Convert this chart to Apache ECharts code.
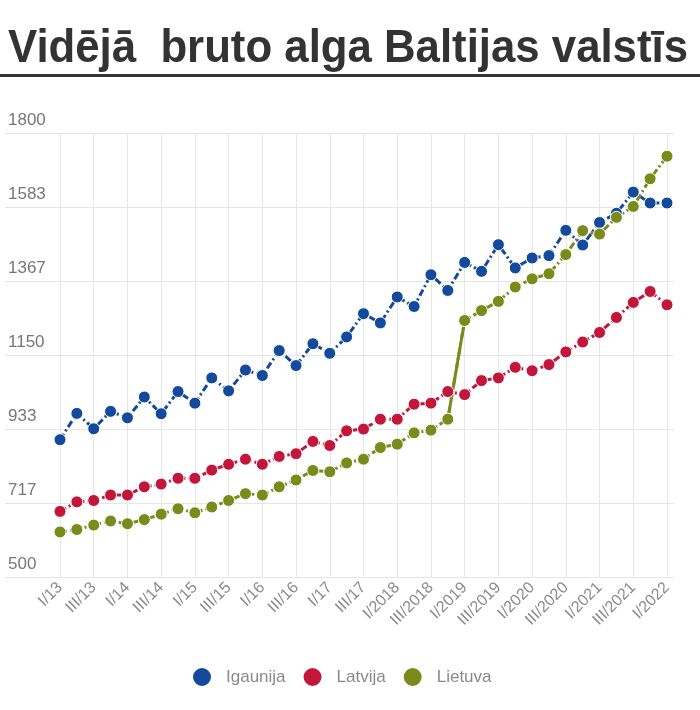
<!DOCTYPE html>
<html>
<head>
<meta charset="utf-8">
<script src="https://cdn.jsdelivr.net/npm/echarts@6/dist/echarts.min.js"></script>
<style>
  html, body { margin: 0; padding: 0; background: #fff; }
  #chart { width: 700px; height: 710px; }
</style>
</head>
<body>
<div id="chart"></div>
<script>
const quarters = [
  'I/13', 'II/13', 'III/13', 'IV/13',
  'I/14', 'II/14', 'III/14', 'IV/14',
  'I/15', 'II/15', 'III/15', 'IV/15',
  'I/16', 'II/16', 'III/16', 'IV/16',
  'I/17', 'II/17', 'III/17', 'IV/17',
  'I/2018', 'II/2018', 'III/2018', 'IV/2018',
  'I/2019', 'II/2019', 'III/2019', 'IV/2019',
  'I/2020', 'II/2020', 'III/2020', 'IV/2020',
  'I/2021', 'II/2021', 'III/2021', 'IV/2021',
  'I/2022',
]
const igaunija = [
  902, 979, 934, 985, 966, 1027, 978, 1043, 1009, 1083, 1045, 1106,
  1090, 1163, 1119, 1183, 1155, 1203, 1271, 1244, 1320, 1292, 1385, 1339,
  1421, 1395, 1473, 1405, 1434, 1441, 1515, 1472, 1538, 1565, 1627, 1595,
  1595,
]
const latvija = [
  692, 720, 724, 740, 740, 764, 772, 789, 789, 813, 830, 845,
  830, 853, 861, 897, 885, 928, 933, 962, 962, 1006, 1009, 1043,
  1034, 1075, 1083, 1114, 1104, 1122, 1159, 1188, 1216, 1260, 1304, 1336,
  1297,
]
const lietuva = [
  632, 639, 652, 664, 656, 668, 684, 700, 688, 705, 724, 744,
  740, 764, 784, 812, 808, 834, 845, 879, 889, 922, 930, 962,
  1251, 1280, 1307, 1349, 1373, 1388, 1444, 1514, 1504, 1553, 1585, 1666,
  1732,
]
// the jump between IV/2018 and I/2019 is drawn as a solid line
const jumpFrom = 'IV/2018'
const jumpTo = 'I/2019'
const yTicks = [500, 716.67, 933.33, 1150, 1366.67, 1583.33, 1800]

const title = 'Vidējā  bruto alga Baltijas valstīs'
const colors = { igaunija: '#134a9b', latvija: '#c2173b', lietuva: '#7a8b1c' }
const gridColor = '#e6e6e6'
const font = '"Liberation Sans", sans-serif'

// the original title face is condensed, so squeeze the text to its width
const titleFont = 'bold 46px "Liberation Sans"'
const ctx = document.createElement('canvas').getContext('2d')
ctx.font = titleFont
const titleScale = 680 / ctx.measureText(title).width

const chart = echarts.init(document.getElementById('chart'))

const lineSeries = (name, data, color) => ({
  name,
  type: 'line',
  data,
  symbol: 'circle',
  symbolSize: 12,
  showAllSymbol: true,
  itemStyle: { color, borderColor: '#fff', borderWidth: 1 },
  lineStyle: { color, width: 3, type: [7, 3, 2, 3] },
  emphasis: { disabled: true },
})

chart.setOption({
  animation: false,
  graphic: [
    {
      type: 'text',
      x: 8,
      y: 49,
      scaleX: titleScale,
      style: { text: title, font: titleFont, fill: '#333', verticalAlign: 'middle' },
    },
    { type: 'rect', shape: { x: 0, y: 74, width: 700, height: 3 }, style: { fill: '#333' } },
  ],
  legend: {
    data: ['Igaunija', 'Latvija', 'Lietuva'],
    top: 661,
    left: 186,
    icon: 'circle',
    itemWidth: 20,
    itemHeight: 20,
    itemGap: 16,
    textStyle: { fontFamily: font, fontSize: 17, color: '#8a8a8a', padding: [0, 0, 0, 9] },
    selectedMode: false,
  },
  grid: { left: 60, right: 33, top: 133, bottom: 133, outerBoundsMode: 'none', containLabel: false },
  xAxis: {
    type: 'category',
    data: quarters,
    boundaryGap: false,
    axisLine: { show: false },
    axisTick: { show: false },
    axisLabel: {
      interval: 1,
      rotate: 45,
      margin: 8,
      fontFamily: font,
      fontSize: 16,
      color: '#8a8a8a',
    },
    splitLine: { show: true, interval: 1, lineStyle: { color: gridColor, width: 1 } },
  },
  yAxis: [
    {
      type: 'value',
      min: yTicks[0],
      max: yTicks[yTicks.length - 1],
      axisLine: { show: false },
      axisTick: {
        show: true,
        length: 55,
        customValues: yTicks,
        lineStyle: { color: gridColor, width: 1 },
      },
      axisLabel: {
        customValues: yTicks,
        align: 'left',
        verticalAlign: 'bottom',
        margin: 52,
        padding: [0, 0, 4, 0],
        fontFamily: font,
        fontSize: 17,
        color: '#777',
        formatter: (v) => String(Math.round(v)),
      },
      splitLine: { show: true, lineStyle: { color: gridColor, width: 1 } },
    },
    {
      type: 'value',
      position: 'right',
      min: yTicks[0],
      max: yTicks[yTicks.length - 1],
      axisLine: { show: false },
      axisTick: { show: true, length: 7, customValues: yTicks, lineStyle: { color: gridColor, width: 1 } },
      axisLabel: { show: false },
      splitLine: { show: false },
    },
  ],
  series: [
    lineSeries('Igaunija', igaunija, colors.igaunija),
    lineSeries('Latvija', latvija, colors.latvija),
    {
      name: 'jump',
      type: 'line',
      data: quarters.map((q, i) => (q === jumpFrom || q === jumpTo ? lietuva[i] : null)),
      symbol: 'none',
      lineStyle: { color: colors.lietuva, width: 3, type: 'solid' },
      emphasis: { disabled: true },
      silent: true,
    },
    lineSeries('Lietuva', lietuva, colors.lietuva),
  ],
})
</script>
</body>
</html>
